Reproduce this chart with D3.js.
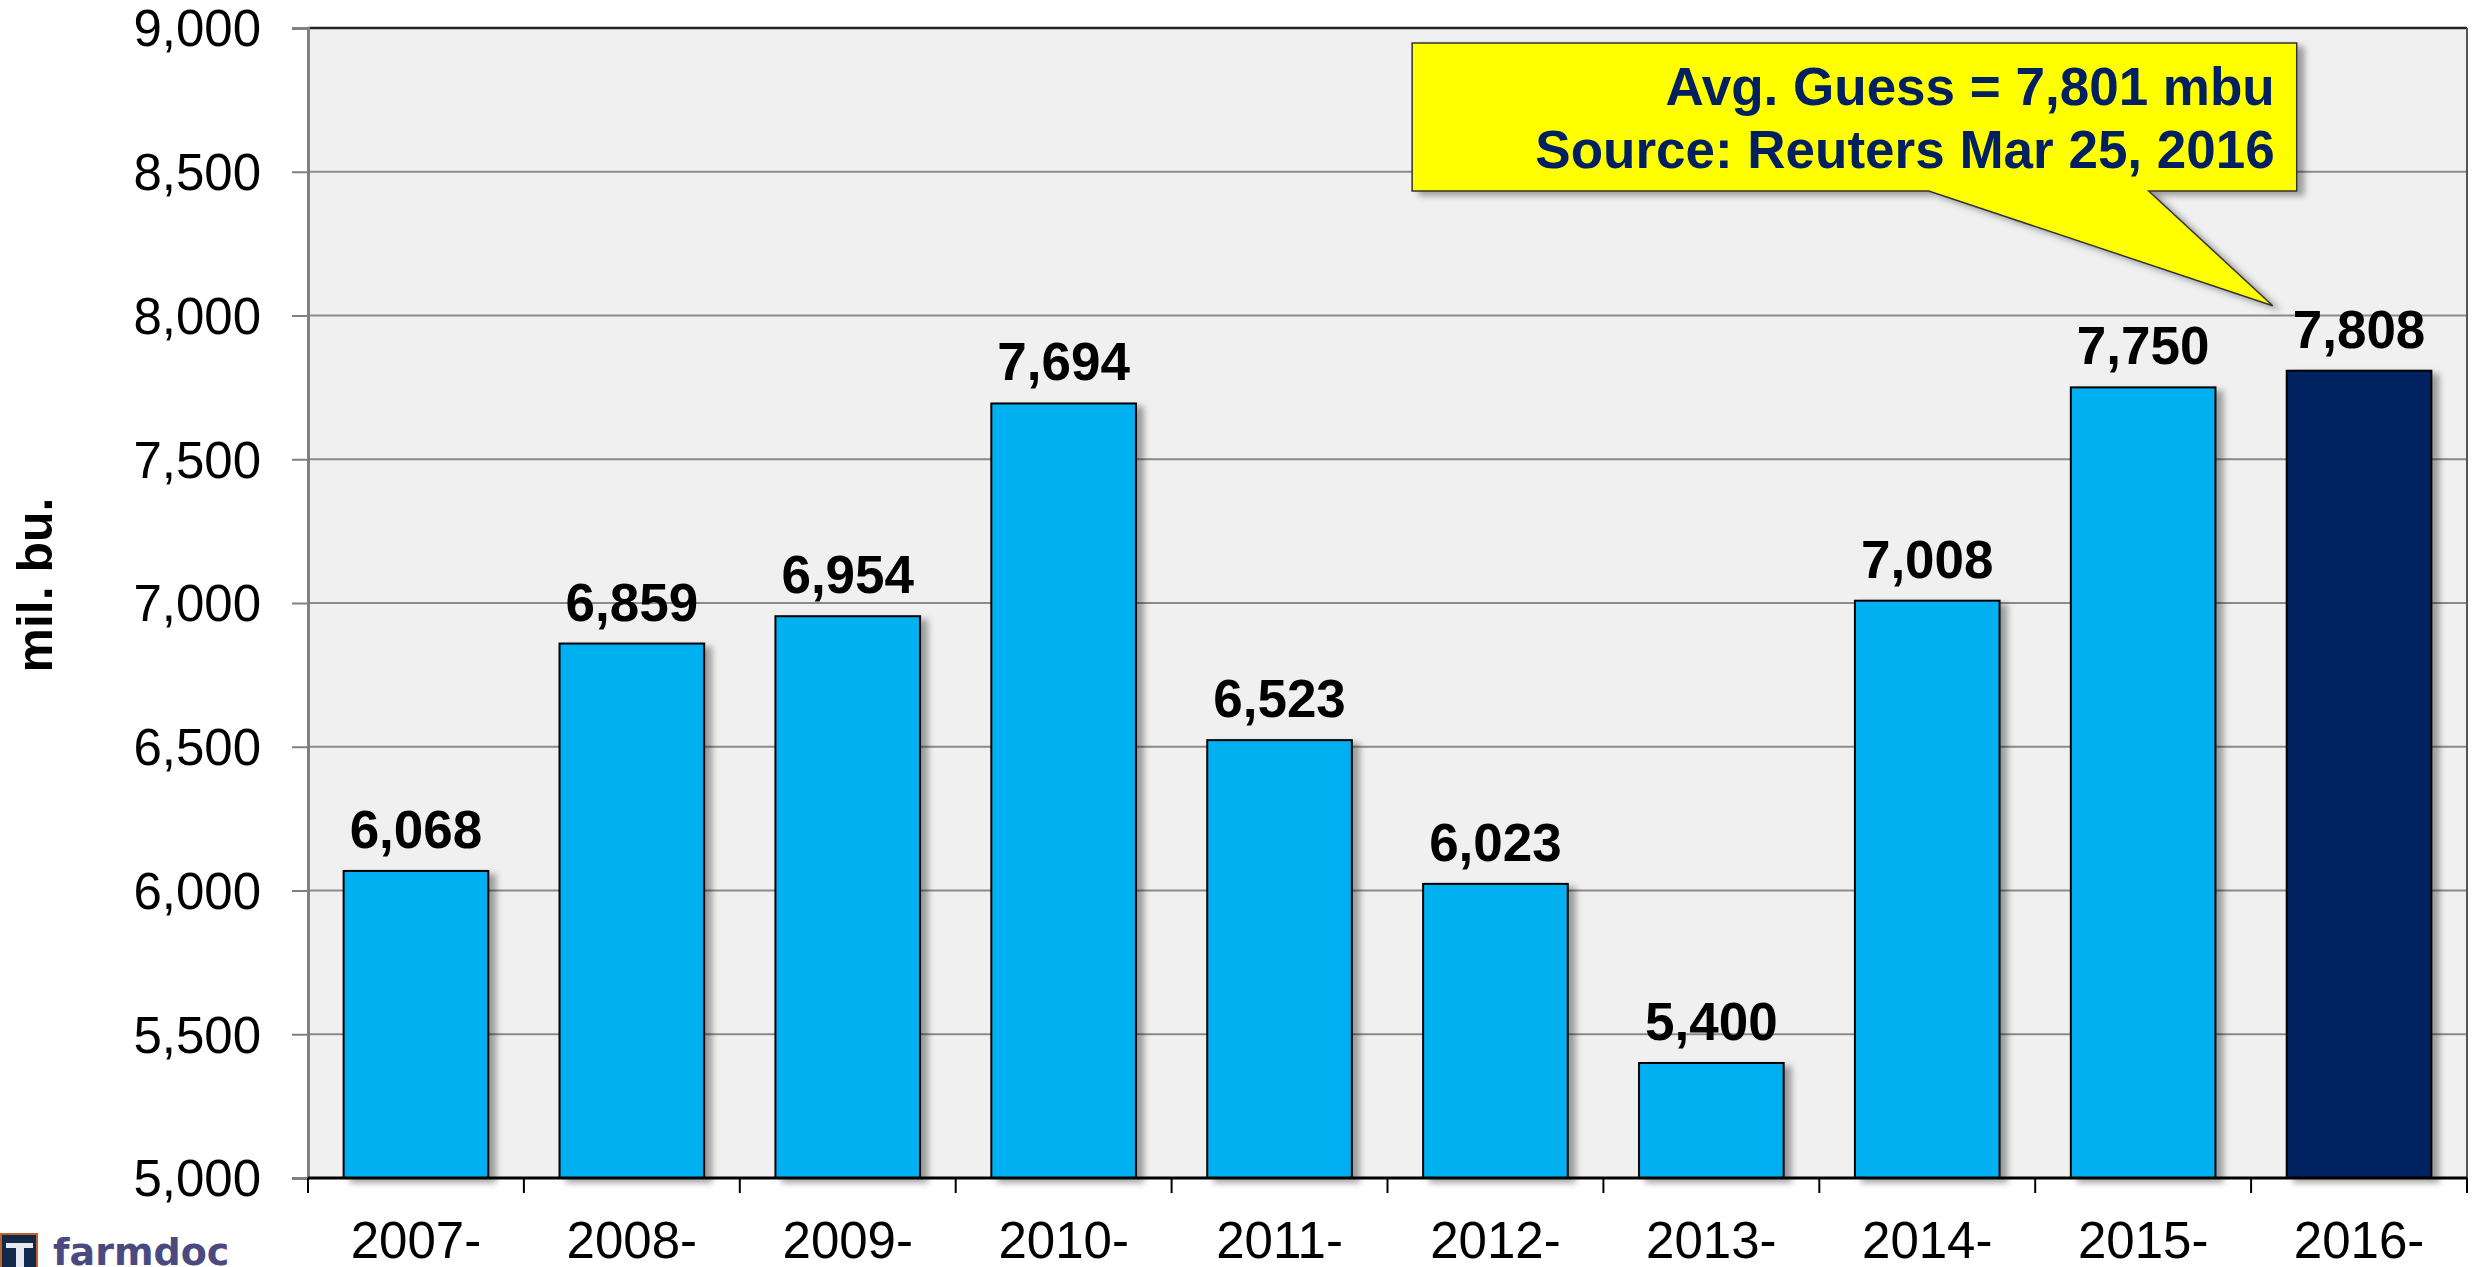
<!DOCTYPE html>
<html>
<head>
<meta charset="utf-8">
<script src="https://cdn.jsdelivr.net/npm/d3@7"></script>
<style>
  html, body { margin: 0; padding: 0; background: #fff; }
  svg { display: block; font-family: "Liberation Sans", Arial, sans-serif; }
</style>
</head>
<body>
<div id="chart"></div>
<script>
// chart data
const categories = ['2007-', '2008-', '2009-', '2010-', '2011-', '2012-', '2013-', '2014-', '2015-', '2016-'];
const stocks = [6068, 6859, 6954, 7694, 6523, 6023, 5400, 7008, 7750, 7808];
const yTicks = [5000, 5500, 6000, 6500, 7000, 7500, 8000, 8500, 9000];
const calloutLines = ['Avg. Guess = 7,801 mbu', 'Source: Reuters Mar 25, 2016'];

const width = 2475, height = 1267;
const margin = { top: 28, right: 8, bottom: 89, left: 308 };
const plotW = width - margin.left - margin.right;
const plotH = height - margin.top - margin.bottom;

const svg = d3.select('#chart')
  .append('svg')
  .attr('width', width)
  .attr('height', height);

const defs = svg.append('defs');
defs.append('filter')
  .attr('id', 'barShadow')
  .attr('x', '-10%').attr('y', '-10%').attr('width', '130%').attr('height', '130%')
  .append('feDropShadow')
  .attr('dx', 7).attr('dy', 4).attr('stdDeviation', 3)
  .attr('flood-color', '#000').attr('flood-opacity', 0.35);

const g = svg.append('g')
  .attr('transform', `translate(${margin.left},${margin.top})`);

// scales
const x = d3.scaleBand()
  .domain(categories)
  .range([0, plotW])
  .paddingInner(0.33)
  .paddingOuter(0.165);

const y = d3.scaleLinear()
  .domain([d3.min(yTicks), d3.max(yTicks)])
  .range([plotH, 0]);

// plot background
g.append('rect')
  .attr('width', plotW)
  .attr('height', plotH)
  .attr('fill', '#f0f0f0');

// gridlines
g.append('g')
  .attr('class', 'grid')
  .selectAll('line')
  .data(yTicks.slice(1, -1))
  .join('line')
  .attr('x1', 0).attr('x2', plotW)
  .attr('y1', d => y(d)).attr('y2', d => y(d))
  .attr('stroke', '#8a8a8a')
  .attr('stroke-width', 2);

// frame: top + right
g.append('line')
  .attr('x1', 0).attr('x2', plotW).attr('y1', y(9000)).attr('y2', y(9000))
  .attr('stroke', '#222').attr('stroke-width', 2.5);
g.append('line')
  .attr('x1', plotW).attr('x2', plotW).attr('y1', 0).attr('y2', plotH)
  .attr('stroke', '#555').attr('stroke-width', 2);

// y axis
const yAxis = d3.axisLeft(y)
  .tickValues(yTicks)
  .tickFormat(d3.format(','))
  .tickSize(16)
  .tickPadding(31);

const yAxisGroup = g.append('g')
  .attr('class', 'y-axis')
  .call(yAxis);
yAxisGroup.select('.domain').attr('stroke', '#808080').attr('stroke-width', 3);
yAxisGroup.selectAll('.tick line').attr('stroke', '#808080').attr('stroke-width', 2);
yAxisGroup.selectAll('.tick text')
  .attr('font-size', 51)
  .attr('fill', '#000')
  .attr('dy', '0.35em');

// bars
const bars = g.append('g').attr('class', 'bars');
bars.selectAll('rect')
  .data(categories)
  .join('rect')
  .attr('x', d => x(d))
  .attr('y', (d, i) => y(stocks[i]))
  .attr('width', x.bandwidth())
  .attr('height', (d, i) => plotH - y(stocks[i]))
  .attr('fill', (d, i) => i === categories.length - 1 ? '#002060' : '#00b0f0')
  .attr('stroke', '#000')
  .attr('stroke-width', 2)
  .attr('filter', 'url(#barShadow)');

// value labels
g.append('g').attr('class', 'values')
  .selectAll('text')
  .data(categories)
  .join('text')
  .attr('x', d => x(d) + x.bandwidth() / 2)
  .attr('y', (d, i) => y(stocks[i]) - 23)
  .attr('text-anchor', 'middle')
  .attr('font-size', 53)
  .attr('font-weight', 'bold')
  .attr('fill', '#000')
  .text((d, i) => d3.format(',')(stocks[i]));

// x axis: ticks sit on the category boundaries
const step = x.step();
const xAxisGroup = g.append('g')
  .attr('class', 'x-axis')
  .attr('transform', `translate(0,${plotH})`);
xAxisGroup.selectAll('line.tick')
  .data(d3.range(categories.length + 1))
  .join('line')
  .attr('class', 'tick')
  .attr('x1', i => i * step).attr('x2', i => i * step)
  .attr('y1', 0).attr('y2', 15)
  .attr('stroke', '#000').attr('stroke-width', 2);
xAxisGroup.append('line')
  .attr('x1', 0).attr('x2', plotW)
  .attr('stroke', '#000').attr('stroke-width', 3);
xAxisGroup.selectAll('text')
  .data(categories)
  .join('text')
  .attr('x', d => x(d) + x.bandwidth() / 2)
  .attr('y', 80)
  .attr('text-anchor', 'middle')
  .attr('font-size', 51)
  .attr('fill', '#000')
  .text(d => d);

// y axis title
svg.append('text')
  .attr('transform', `translate(52,${margin.top + plotH / 2 - 18}) rotate(-90)`)
  .attr('text-anchor', 'middle')
  .attr('font-size', 50)
  .attr('font-weight', 'bold')
  .attr('fill', '#000')
  .text('mil. bu.');

// callout pointing at the last bar
const lastCat = categories[categories.length - 1];
const tipX = x(lastCat) - 14;
const tipY = y(stocks[stocks.length - 1]) - 65;
const box = { x0: x(categories[5]) - 11, x1: x(lastCat) + 10, y0: 15, y1: 163 };
const callout = g.append('g').attr('class', 'callout');
callout.append('path')
  .attr('d', [
    ['M', box.x0, box.y0], ['L', box.x1, box.y0], ['L', box.x1, box.y1],
    ['L', box.x1 - 148, box.y1], ['L', tipX, tipY], ['L', box.x1 - 368, box.y1],
    ['L', box.x0, box.y1], ['Z']
  ].map(p => p.join(' ')).join(' '))
  .attr('fill', '#ffff00')
  .attr('stroke', '#333')
  .attr('stroke-width', 1.5)
  .attr('filter', 'url(#barShadow)');
callout.selectAll('text')
  .data(calloutLines)
  .join('text')
  .attr('x', box.x1 - 22)
  .attr('y', (d, i) => 77 + i * 63)
  .attr('text-anchor', 'end')
  .attr('font-size', 53)
  .attr('font-weight', 'bold')
  .attr('fill', '#002060')
  .text(d => d);

// farmdoc logo, bottom left
const logo = svg.append('g').attr('class', 'logo');
logo.append('rect')
  .attr('x', 1).attr('y', 1234).attr('width', 36).attr('height', 40)
  .attr('fill', '#13294b')
  .attr('stroke', '#c0602a').attr('stroke-width', 2);
logo.append('path')
  .attr('d', 'M6 1243 H33 V1248 H24 V1270 H16 V1248 H6 Z')
  .attr('fill', '#e8e8f0');
logo.append('text')
  .attr('x', 53).attr('y', 1265)
  .attr('font-family', '"DejaVu Sans", Verdana, sans-serif')
  .attr('font-size', 38)
  .attr('font-weight', 'bold')
  .attr('fill', '#4a4a80')
  .text('farmdoc');
</script>
</body>
</html>
